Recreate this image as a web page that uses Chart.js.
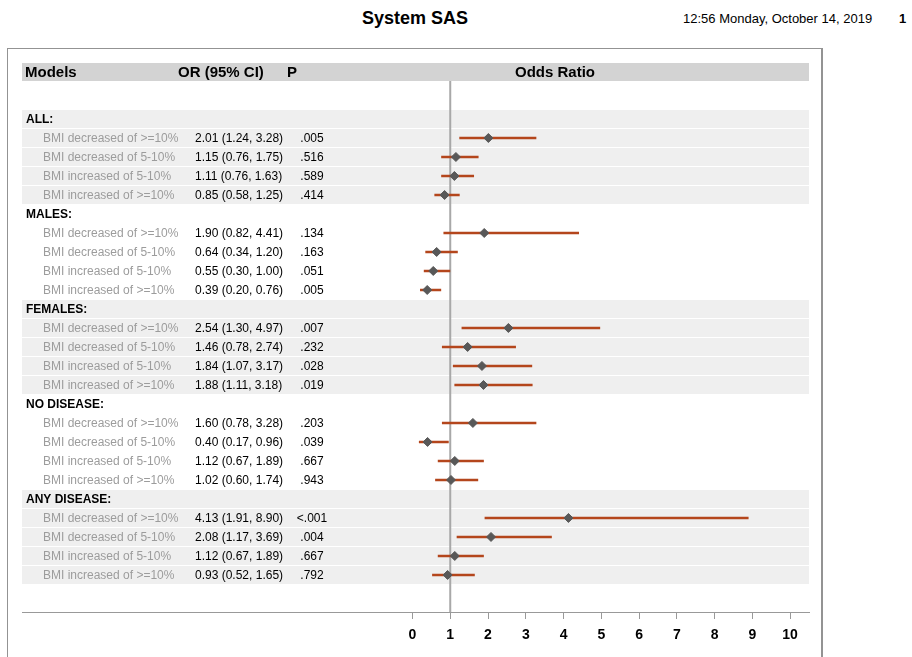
<!DOCTYPE html>
<html>
<head>
<meta charset="utf-8">
<script src="https://cdn.jsdelivr.net/npm/chart.js@4/dist/chart.umd.min.js"></script>
<style>
  body { margin: 0; background: #fff; font-family: "Liberation Sans", Arial, sans-serif; }
  #page { position: relative; width: 912px; height: 657px; overflow: hidden; }
  #title { position: absolute; left: 315px; width: 200px; top: 8px; text-align: center; font-weight: bold; font-size: 18px; }
  #stamp { position: absolute; left: 683px; top: 11px; font-size: 13px; }
  #pageno { position: absolute; left: 899px; top: 11px; font-size: 13px; font-weight: bold; }
  #frame { position: absolute; left: 7px; top: 48px; width: 813px; height: 660px; border: 1px solid #939393; border-right-width: 2px; }
  #chart { position: absolute; left: 0; top: 0; }
</style>
</head>
<body>
<div id="page">
  <div id="title">System SAS</div>
  <div id="stamp">12:56 Monday, October 14, 2019</div>
  <div id="pageno">1</div>
  <div id="frame"></div>
  <canvas id="chart" width="912" height="657"></canvas>
</div>
<script>
const groupNames = ['ALL:', 'MALES:', 'FEMALES:', 'NO DISEASE:', 'ANY DISEASE:'];
const rowLabels = ['BMI decreased of >=10%', 'BMI decreased of 5-10%', 'BMI increased of 5-10%', 'BMI increased of >=10%'];

// one entry per row, groups in order above
const oddsRatios = [2.01, 1.15, 1.11, 0.85,  1.90, 0.64, 0.55, 0.39,  2.54, 1.46, 1.84, 1.88,  1.60, 0.40, 1.12, 1.02,  4.13, 2.08, 1.12, 0.93];
const ciLower    = [1.24, 0.76, 0.76, 0.58,  0.82, 0.34, 0.30, 0.20,  1.30, 0.78, 1.07, 1.11,  0.78, 0.17, 0.67, 0.60,  1.91, 1.17, 0.67, 0.52];
const ciUpper    = [3.28, 1.75, 1.63, 1.25,  4.41, 1.20, 1.00, 0.76,  4.97, 2.74, 3.17, 3.18,  3.28, 0.96, 1.89, 1.74,  8.90, 3.69, 1.89, 1.65];
const pValues    = ['.005', '.516', '.589', '.414',  '.134', '.163', '.051', '.005',  '.007', '.232', '.028', '.019',  '.203', '.039', '.667', '.943',  '<.001', '.004', '.667', '.792'];

const tickValues = [0, 1, 2, 3, 4, 5, 6, 7, 8, 9, 10];

const FONT = '"Liberation Sans", Arial, sans-serif';
const perGroup = rowLabels.length + 1;
const rowIndex = i => Math.floor(i / rowLabels.length) * perGroup + 1 + (i % rowLabels.length);

const points = oddsRatios.map((v, i) => ({ x: v, y: rowIndex(i) }));
const whiskers = [];
ciLower.forEach((lo, i) => {
  whiskers.push({ x: lo, y: rowIndex(i) }, { x: ciUpper[i], y: rowIndex(i) }, { x: null, y: null });
});

const fmt = v => v.toFixed(2);

const tablePlugin = {
  id: 'forestTable',
  beforeDatasetsDraw(chart) {
    const { ctx, chartArea: a, scales: { x, y } } = chart;
    const w = a.right - a.left;
    ctx.save();

    // header band
    ctx.fillStyle = '#d3d3d3';
    ctx.fillRect(a.left, a.top - 18, w, 18);

    // shaded groups (every other one)
    ctx.fillStyle = '#efefef';
    groupNames.forEach((g, gi) => {
      if (gi % 2) return;
      for (let r = 0; r < perGroup; r++) {
        const yc = y.getPixelForValue(gi * perGroup + r);
        ctx.fillRect(a.left, Math.round(yc) - 9, w, 18);
      }
    });

    // reference line at OR = 1
    const x1 = x.getPixelForValue(1);
    ctx.strokeStyle = '#a8a8a8';
    ctx.lineWidth = 2;
    ctx.beginPath();
    ctx.moveTo(x1, a.top);
    ctx.lineTo(x1, a.bottom);
    ctx.stroke();

    // header text
    ctx.fillStyle = '#000';
    ctx.textBaseline = 'middle';
    ctx.font = 'bold 15px ' + FONT;
    const hy = a.top - 8;
    ctx.textAlign = 'left';
    ctx.fillText('Models', 25, hy);
    ctx.fillText('OR (95% CI)', 178, hy);
    ctx.fillText('P', 287, hy);
    ctx.textAlign = 'center';
    ctx.fillText('Odds Ratio', 555, hy);

    // group + row text
    groupNames.forEach((g, gi) => {
      ctx.textAlign = 'left';
      ctx.fillStyle = '#000';
      ctx.font = 'bold 12px ' + FONT;
      ctx.fillText(g, 26, y.getPixelForValue(gi * perGroup) + 1);
      rowLabels.forEach((lab, r) => {
        const i = gi * rowLabels.length + r;
        const yc = y.getPixelForValue(rowIndex(i)) + 1;
        ctx.font = '12px ' + FONT;
        ctx.fillStyle = '#9c9c9c';
        ctx.textAlign = 'left';
        ctx.fillText(lab, 43, yc);
        ctx.fillStyle = '#000';
        ctx.fillText(`${fmt(oddsRatios[i])} (${fmt(ciLower[i])}, ${fmt(ciUpper[i])})`, 195, yc);
        ctx.textAlign = 'center';
        ctx.fillText(pValues[i], 312, yc);
      });
    });
    ctx.restore();
  }
};

new Chart(document.getElementById('chart'), {
  type: 'scatter',
  data: {
    datasets: [
      {
        label: 'OR',
        data: points,
        pointStyle: 'rectRot',
        pointRadius: 4.5,
        backgroundColor: '#585858',
        borderColor: '#585858',
        borderWidth: 1,
      },
      {
        type: 'line',
        label: '95% CI',
        data: whiskers,
        borderColor: '#b4461c',
        borderWidth: 2.5,
        pointRadius: 0,
        spanGaps: false,
        tension: 0,
      },
    ],
  },
  options: {
    responsive: false,
    animation: false,
    layout: { padding: { left: 22, right: 103, top: 81, bottom: 0 } },
    plugins: { legend: { display: false }, tooltip: { enabled: false } },
    scales: {
      x: {
        type: 'linear',
        min: -10.34,
        max: 10.5,
        afterBuildTicks: s => { s.ticks = tickValues.map(v => ({ value: v })); },
        afterFit: s => { s.height = 45; },
        ticks: { color: '#000', font: { family: FONT, size: 14, weight: 'bold' }, padding: 8, autoSkip: false, maxRotation: 0 },
        grid: { drawOnChartArea: false, tickLength: 7, color: '#999' },
        border: { color: '#999', width: 1 },
      },
      y: {
        type: 'linear',
        reverse: true,
        min: -2,
        max: 25.95,
        display: false,
      },
    },
  },
  plugins: [tablePlugin],
});
</script>
</body>
</html>
